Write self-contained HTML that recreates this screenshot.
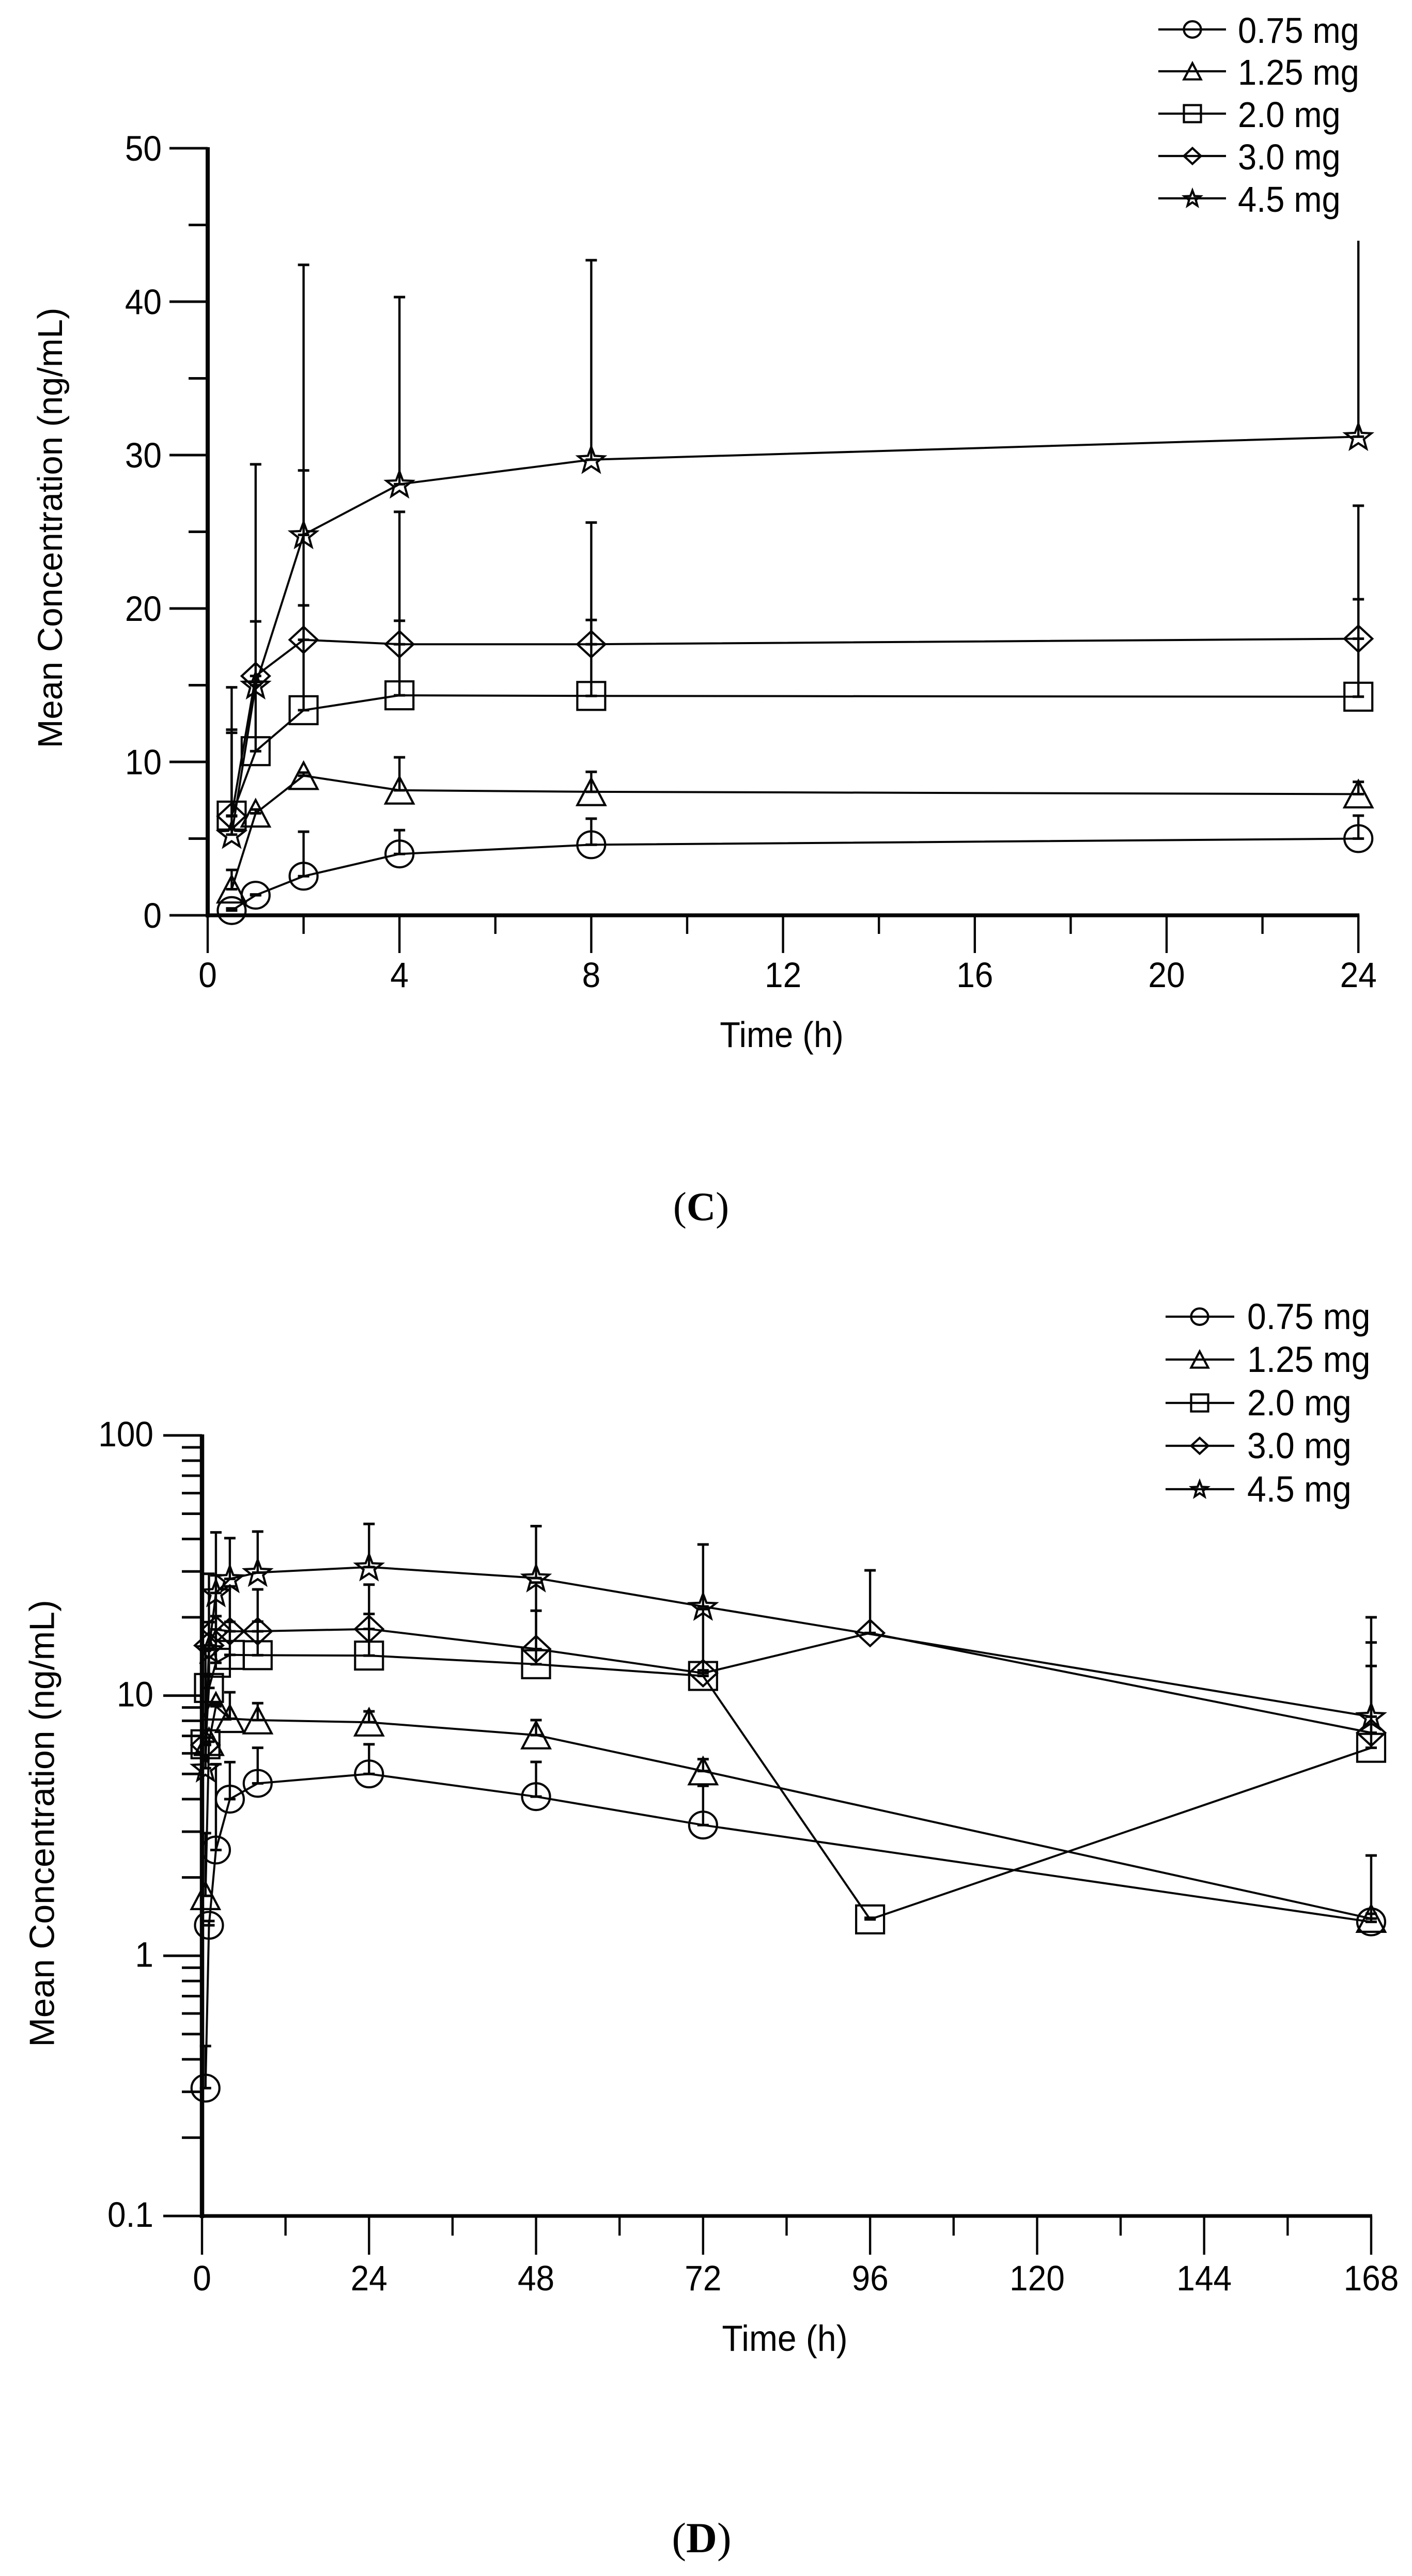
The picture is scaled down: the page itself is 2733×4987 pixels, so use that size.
<!DOCTYPE html>
<html lang="en">
<head>
<meta charset="utf-8">
<title>Mean concentration versus time, panels C and D</title>
<style>
html,body{margin:0;padding:0;background:#fff;}
svg{display:block;}
text{font-family:"Liberation Sans",sans-serif;fill:#000;}
.panel-label{font-family:"Liberation Serif",serif;}
</style>
</head>
<body>
<svg id="figure" xmlns="http://www.w3.org/2000/svg" width="2733" height="4987" viewBox="0 0 2733 4987">
  <rect x="0" y="0" width="2733" height="4987" fill="#fff"/>
  <g id="chartC"></g>
  <g id="chartD"></g>
  <text class="panel-label" x="1357" y="2362" font-size="78" text-anchor="middle">(<tspan font-weight="bold">C</tspan>)</text>
  <text class="panel-label" x="1358" y="4941" font-size="83" text-anchor="middle">(<tspan font-weight="bold">D</tspan>)</text>
</svg>
<script>
// ----- Panel C data (linear, 0-24 h) -----
const hoursC = [0.5, 1, 2, 4, 8, 24];
const c075 = [0.31, 1.31, 2.55, 4.0, 4.6, 5.0];
const c075Upper = [0.45, 1.36, 5.45, 5.55, 6.3, 6.5];
const c125 = [1.7, 6.65, 9.1, 8.15, 8.05, 7.9];
const c125Upper = [2.96, 6.9, 9.3, 10.3, 9.35, 8.7];
const c200 = [6.5, 10.7, 13.37, 14.34, 14.3, 14.25];
const c200Upper = [11.9, 15.2, 20.2, 19.2, 19.25, 20.6];
const c300 = [6.46, 15.6, 17.96, 17.67, 17.67, 18.03];
const c300Upper = [12.1, 19.16, 29, 26.3, 25.6, 26.7];
const c450 = [5.26, 15, 24.8, 28.1, 29.7, 31.2];
const c450Upper = [14.86, 29.4, 42.4, 40.3, 42.7, 45.7];
const cYMajor = [0, 10, 20, 30, 40, 50];
const cYMinor = [5, 15, 25, 35, 45];
const cXMajor = [0, 4, 8, 12, 16, 20, 24];
const cXMinor = [2, 6, 10, 14, 18, 22];

// ----- Panel D data (log, 0-168 h) -----
const hoursD = [0.5, 1, 2, 4, 8, 24, 48, 72, 168];
const hoursDWith96 = [0.5, 1, 2, 4, 8, 24, 48, 72, 96, 168];
const d075 = [0.31, 1.31, 2.55, 4.0, 4.6, 5.0, 4.09, 3.18, 1.35];
const d075Upper = [0.45, 1.36, 5.45, 5.55, 6.3, 6.5, 5.56, 4.5, 2.43];
const d125 = [1.7, 6.65, 9.1, 8.15, 8.05, 7.9, 7.05, 5.13, 1.39];
const d125Upper = [2.96, 6.9, 9.3, 10.3, 9.35, 8.7, 8.05, 5.7, 1.45];
const d200 = [6.5, 10.7, 13.37, 14.34, 14.3, 14.25, 13.2, 11.9, 1.38, 6.3];
const d200Upper = [11.9, 15.2, 20.2, 19.2, 19.25, 20.6, 21.2, 12.5, 1.4, 13];
const d300 = [6.46, 15.6, 17.96, 17.67, 17.67, 18.03, 15.1, 12.2, 17.4, 7.2];
const d300Upper = [12.1, 19.16, 29, 26.3, 25.6, 26.7, 27.2, 21.5, 30.3, 16];
const d450 = [5.26, 15, 24.8, 28.1, 29.7, 31.2, 28.3, 22, 8.3];
const d450Upper = [14.86, 29.4, 42.4, 40.3, 42.7, 45.7, 44.8, 38.1, 20];
const dYMajor = [0.1, 1, 10, 100];
const dYMajorLabels = ['0.1', '1', '10', '100'];
const dYMinorMultipliers = [2, 3, 4, 5, 6, 7, 8, 9];
const dYDecades = [0.1, 1, 10];
const dXMajor = [0, 24, 48, 72, 96, 120, 144, 168];
const dXMinor = [12, 36, 60, 84, 108, 132, 156];

const doseLabels = ['0.75 mg', '1.25 mg', '2.0 mg', '3.0 mg', '4.5 mg'];
const doseKeys = ['0-75-mg', '1-25-mg', '2-0-mg', '3-0-mg', '4-5-mg'];
const doseShapes = ['circle', 'triangle', 'square', 'diamond', 'star'];

// ----- Axis functions -----
function xC(h) { return 402 + h * 92.8; }
function yC(v) { return 1772 - v * 29.7; }
function xD(h) { return 391 + h * 13.47; }
function yD(v) { return 4290 - 503.7 * (Math.log10(v) + 1); }

const NS = 'http://www.w3.org/2000/svg';
const INK = '#050505';

function make(parent, tag, name, attrs) {
  const el = document.createElementNS(NS, tag);
  
  
  for (const k in attrs) el.setAttribute(k, attrs[k]);
  parent.appendChild(el);
  return el;
}

function seg(parent, name, x1, y1, x2, y2, w) {
  return make(parent, 'line', name, { x1: x1, y1: y1, x2: x2, y2: y2, stroke: INK, 'stroke-width': w });
}

// Text in the reference is slightly stretched vertically, so the label is scaled about its baseline.
function label(parent, name, str, x, y, size, anchor) {
  const t = make(parent, 'text', name, { x: 0, y: 0, 'font-size': size, 'text-anchor': anchor, transform: 'translate(' + x + ' ' + y + ') scale(1 1.07)' });
  t.textContent = str;
  return t;
}

function marker(parent, name, shape, x, y, s) {
  const common = { fill: 'none', stroke: INK, 'stroke-width': 4.2, 'stroke-linejoin': 'miter' };
  let attrs;
  if (shape === 'circle') {
    attrs = Object.assign({ cx: x, cy: y, rx: s, ry: s * 0.96 }, common);
    return make(parent, 'ellipse', name, attrs);
  }
  if (shape === 'square') {
    attrs = Object.assign({ x: x - s, y: y - s, width: 2 * s, height: 2 * s }, common);
    return make(parent, 'rect', name, attrs);
  }
  let pts = [];
  if (shape === 'triangle') {
    pts = [[x, y - s * 0.95], [x + s, y + s * 0.95], [x - s, y + s * 0.95]];
  } else if (shape === 'diamond') {
    pts = [[x, y - s * 0.93], [x + s, y], [x, y + s * 0.93], [x - s, y]];
  } else {
    const R = s * 0.98, r = R * 0.42;
    for (let i = 0; i < 10; i++) {
      const a = -Math.PI / 2 + i * Math.PI / 5, q = i % 2 ? r : R;
      pts.push([x + q * Math.cos(a), y + q * Math.sin(a) + s * 0.06]);
    }
  }
  attrs = Object.assign({ points: pts.map(p => p[0].toFixed(1) + ',' + p[1].toFixed(1)).join(' ') }, common);
  return make(parent, 'polygon', name, attrs);
}

function drawSeries(parent, key, shape, hours, values, upper, fx, fy) {
  const g = make(parent, 'g', 'series-' + key, {});
  make(g, 'polyline', 'line-' + key, {
    points: hours.map((h, i) => fx(h).toFixed(1) + ',' + fy(values[i]).toFixed(1)).join(' '),
    fill: 'none', stroke: INK, 'stroke-width': 4
  });
  hours.forEach((h, i) => {
    const x = fx(h), y = fy(values[i]), top = fy(upper[i]);
    seg(g, 'error-bar-' + key, x, y, x, top, 4.4);
    seg(g, 'error-cap-upper-' + key, x - 11, top, x + 11, top, 5);
    seg(g, 'error-cap-mean-' + key, x - 11, y, x + 11, y, 5);
    marker(g, 'point-' + key, shape, x, y, 27);
  });
}

function drawLegend(parent, x1, x2, mx, tx, ys, bOff, size) {
  doseLabels.forEach((lab, i) => {
    const g = make(parent, 'g', 'legend-entry-' + doseKeys[i], {});
    seg(g, 'legend-line', x1, ys[i], x2, ys[i], 4.2);
    marker(g, 'legend-marker', doseShapes[i], mx, ys[i], 16.5);
    label(g, 'legend-label', lab, tx, ys[i] + bOff, size, 'start');
  });
}

// ----- Panel C -----
const gC = document.getElementById('chartC');
drawSeries(gC, '0-75-mg', 'circle', hoursC, c075, c075Upper, xC, yC);
drawSeries(gC, '1-25-mg', 'triangle', hoursC, c125, c125Upper, xC, yC);
drawSeries(gC, '2-0-mg', 'square', hoursC, c200, c200Upper, xC, yC);
drawSeries(gC, '3-0-mg', 'diamond', hoursC, c300, c300Upper, xC, yC);
drawSeries(gC, '4-5-mg', 'star', hoursC, c450, c450Upper, xC, yC);

make(gC, 'rect', 'legend-background', { x: 2200, y: 0, width: 533, height: 466, fill: '#fff' });

cYMajor.forEach(v => {
  seg(gC, 'y-major-tick', 328, yC(v), xC(0), yC(v), 5);
  label(gC, 'y-tick-label', String(v), 313, yC(v) + 24, 64, 'end');
});
cYMinor.forEach(v => {
  seg(gC, 'y-minor-tick', 365, yC(v), xC(0), yC(v), 5);
});
cXMajor.forEach(h => {
  seg(gC, 'x-major-tick', xC(h), yC(0), xC(h), 1845, 4.4);
  label(gC, 'x-tick-label', String(h), xC(h), 1911, 64, 'middle');
});
cXMinor.forEach(h => {
  seg(gC, 'x-minor-tick', xC(h), yC(0), xC(h), 1808, 4.4);
});
seg(gC, 'y-axis-line', xC(0), yC(50) - 2, xC(0), yC(0) + 4, 8);
seg(gC, 'x-axis-line', xC(0), yC(0), xC(24) + 2, yC(0), 7.5);
label(gC, 'x-axis-title', 'Time (h)', 1513, 2027, 65, 'middle');
const titleC = label(gC, 'y-axis-title', 'Mean Concentration (ng/mL)', 0, 0, 67, 'middle');
titleC.setAttribute('transform', 'translate(120 1022) rotate(-90)');
drawLegend(gC, 2242, 2373, 2308, 2396, [57, 138, 220, 302, 384], 26, 65);

// ----- Panel D -----
const gD = document.getElementById('chartD');
drawSeries(gD, '0-75-mg', 'circle', hoursD, d075, d075Upper, xD, yD);
drawSeries(gD, '1-25-mg', 'triangle', hoursD, d125, d125Upper, xD, yD);
drawSeries(gD, '2-0-mg', 'square', hoursDWith96, d200, d200Upper, xD, yD);
drawSeries(gD, '3-0-mg', 'diamond', hoursDWith96, d300, d300Upper, xD, yD);
drawSeries(gD, '4-5-mg', 'star', hoursD, d450, d450Upper, xD, yD);

dYMajor.forEach((v, i) => {
  seg(gD, 'y-major-tick', 316, yD(v), xD(0), yD(v), 5);
  label(gD, 'y-tick-label', dYMajorLabels[i], 297, yD(v) + 21, 64, 'end');
});
dYDecades.forEach(base => {
  dYMinorMultipliers.forEach(m => {
    seg(gD, 'y-minor-tick', 352, yD(base * m), xD(0), yD(base * m), 5);
  });
});
dXMajor.forEach(h => {
  seg(gD, 'x-major-tick', xD(h), yD(0.1), xD(h), 4365, 4.4);
  label(gD, 'x-tick-label', String(h), xD(h), 4434, 64, 'middle');
});
dXMinor.forEach(h => {
  seg(gD, 'x-minor-tick', xD(h), yD(0.1), xD(h), 4328, 4.4);
});
seg(gD, 'y-axis-line', xD(0), yD(100) - 2, xD(0), yD(0.1) + 4, 8.5);
seg(gD, 'x-axis-line', xD(0), yD(0.1), xD(168) + 2, yD(0.1), 7);
label(gD, 'x-axis-title', 'Time (h)', 1519, 4551, 66, 'middle');
const titleD = label(gD, 'y-axis-title', 'Mean Concentration (ng/mL)', 0, 0, 68, 'middle');
titleD.setAttribute('transform', 'translate(104.5 3530) rotate(-90)');
drawLegend(gD, 2256, 2389, 2322, 2414, [2549, 2632, 2716, 2799, 2883], 24, 66);
</script>
</body>
</html>
